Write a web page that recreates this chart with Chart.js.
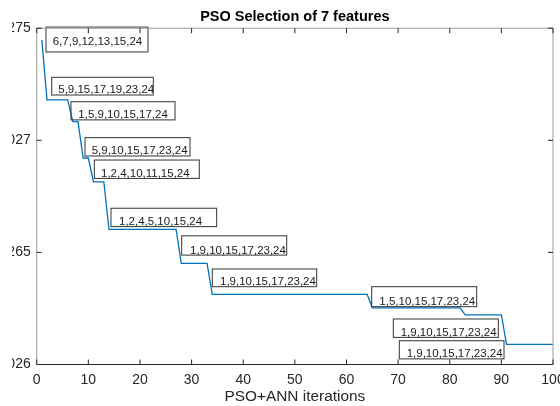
<!DOCTYPE html>
<html>
<head>
<meta charset="utf-8">
<script src="https://cdn.jsdelivr.net/npm/chart.js@4"></script>
<style>
  html, body { margin: 0; padding: 0; background: #fff; }
  /* the figure is cropped on its left side, as in the reference */
  #crop { position: absolute; left: 12px; top: 0; width: 548px; height: 406px; overflow: hidden; }
  #plot { position: absolute; left: -12px; top: 0; }
</style>
</head>
<body>
<div id="crop"><canvas id="plot" width="560" height="406"></canvas></div>
<script>
// best fitness at the iterations where the curve bends
const iterations = [1, 2, 6, 7, 8, 9, 10, 11, 13, 14, 27, 28, 33, 34, 64, 65, 82, 83, 90, 91, 100];
const fitness = [0.027447, 0.027180, 0.027180, 0.027083, 0.027083, 0.026921, 0.026921,
  0.026815, 0.026815, 0.026603, 0.026603, 0.026451, 0.026451, 0.026313, 0.026313,
  0.026253, 0.026253, 0.026221, 0.026221, 0.026090, 0.026090];

const xTicks = [0, 10, 20, 30, 40, 50, 60, 70, 80, 90, 100];
const yTicks = [0.026, 0.0265, 0.027, 0.0275];

// selected feature sets shown in the text boxes
const featureSets = [
  "6,7,9,12,13,15,24",
  "5,9,15,17,19,23,24",
  "1,5,9,10,15,17,24",
  "5,9,10,15,17,23,24",
  "1,2,4,10,11,15,24",
  "1,2,4,5,10,15,24",
  "1,9,10,15,17,23,24",
  "1,9,10,15,17,23,24",
  "1,5,10,15,17,23,24",
  "1,9,10,15,17,23,24",
  "1,9,10,15,17,23,24"
];

// where each text box sits, in axis units: [x0, x1, yTop, yBottom, textX, textY]
const noteBoxes = [
  [1.80, 21.55, 0.027505, 0.027394, 3.10, 0.027427],
  [2.91, 22.58, 0.027281, 0.027202, 4.18, 0.027209],
  [6.64, 26.79, 0.027172, 0.027091, 8.06, 0.027099],
  [9.36, 29.69, 0.027012, 0.026930, 10.65, 0.026939],
  [11.16, 31.49, 0.026912, 0.026830, 12.45, 0.026838],
  [14.39, 34.86, 0.026697, 0.026615, 15.94, 0.026622],
  [28.08, 48.42, 0.026574, 0.026488, 29.69, 0.026493],
  [34.01, 54.23, 0.026426, 0.026347, 35.50, 0.026355],
  [64.88, 85.22, 0.026347, 0.026258, 66.36, 0.026266],
  [69.07, 89.41, 0.026203, 0.026121, 70.50, 0.026128],
  [70.23, 90.51, 0.026106, 0.026025, 71.66, 0.026034]
];

const FONT = "'Liberation Sans', Arial, sans-serif";
const AXIS_COLOR = "#262626";

const axesBox = {
  id: "axesBox",
  afterDatasetsDraw(chart) {
    const { ctx } = chart;
    const x = chart.scales.x;
    const y = chart.scales.y;

    ctx.save();
    ctx.font = "11.5px " + FONT;
    ctx.fillStyle = "#1a1a1a";
    ctx.textBaseline = "alphabetic";
    ctx.textAlign = "left";
    noteBoxes.forEach((b, i) => {
      const left = x.getPixelForValue(b[0]);
      const right = x.getPixelForValue(b[1]);
      const top = y.getPixelForValue(b[2]);
      const bottom = y.getPixelForValue(b[3]);
      ctx.strokeStyle = "#333";
      ctx.lineWidth = 1;
      ctx.strokeRect(left, top, right - left, bottom - top);
      ctx.fillText(featureSets[i], x.getPixelForValue(b[4]), y.getPixelForValue(b[5]));
    });
    ctx.restore();
  },
  afterDraw(chart) {
    const { ctx, chartArea: a } = chart;
    const x = chart.scales.x;
    const y = chart.scales.y;
    const tick = 5;

    ctx.save();
    ctx.lineWidth = 1;
    ctx.strokeStyle = "#9a9a9a";
    ctx.beginPath();
    ctx.moveTo(a.left, a.bottom);
    ctx.lineTo(a.left, a.top);
    ctx.lineTo(a.right, a.top);
    ctx.lineTo(a.right, a.bottom);
    ctx.stroke();

    ctx.strokeStyle = AXIS_COLOR;
    ctx.beginPath();
    ctx.moveTo(a.left, a.bottom);
    ctx.lineTo(a.right, a.bottom);
    xTicks.forEach(v => {
      const px = x.getPixelForValue(v);
      ctx.moveTo(px, a.bottom);
      ctx.lineTo(px, a.bottom - tick);
      ctx.moveTo(px, a.top);
      ctx.lineTo(px, a.top + tick);
    });
    yTicks.forEach(v => {
      const py = y.getPixelForValue(v);
      ctx.moveTo(a.left, py);
      ctx.lineTo(a.left + tick, py);
      ctx.moveTo(a.right, py);
      ctx.lineTo(a.right - tick, py);
    });
    ctx.stroke();
    ctx.restore();
  }
};

new Chart(document.getElementById("plot"), {
  type: "line",
  data: {
    datasets: [{
      data: iterations.map((it, i) => ({ x: it, y: fitness[i] })),
      borderColor: "#0072BD",
      borderWidth: 1.3,
      pointRadius: 0,
      tension: 0,
      fill: false
    }]
  },
  options: {
    responsive: false,
    animation: false,
    layout: { padding: { left: 0, right: 7, top: 0, bottom: 0 } },
    plugins: {
      legend: { display: false },
      tooltip: { enabled: false },
      title: {
        display: true,
        fullSize: false,
        text: "PSO Selection of 7 features",
        color: "#000",
        font: { family: FONT, size: 14.5, weight: "bold" },
        padding: { top: 7.8, bottom: 3 }
      }
    },
    scales: {
      x: {
        type: "linear",
        min: 0,
        max: 100,
        grid: { display: false, drawTicks: false },
        border: { display: false },
        afterBuildTicks: s => { s.ticks = xTicks.map(v => ({ value: v })); },
        afterFit: s => { s.height = 41.5; s.paddingLeft = 0; s.paddingRight = 0; },
        ticks: {
          autoSkip: false,
          maxRotation: 0,
          padding: 7,
          color: AXIS_COLOR,
          font: { family: FONT, size: 14 }
        },
        title: {
          display: true,
          text: "PSO+ANN iterations",
          color: AXIS_COLOR,
          font: { family: FONT, size: 15.4 },
          padding: { top: 0, bottom: 0 }
        }
      },
      y: {
        type: "linear",
        min: 0.026,
        max: 0.0275,
        grid: { display: false, drawTicks: false },
        border: { display: false },
        afterBuildTicks: s => { s.ticks = yTicks.map(v => ({ value: v })); },
        afterFit: s => { s.width = 36.7; s.paddingTop = 0; s.paddingBottom = 0; },
        ticks: {
          padding: 6,
          color: AXIS_COLOR,
          font: { family: FONT, size: 14 },
          callback: v => String(+v.toFixed(4))
        }
      }
    }
  },
  plugins: [axesBox]
});
</script>
</body>
</html>
